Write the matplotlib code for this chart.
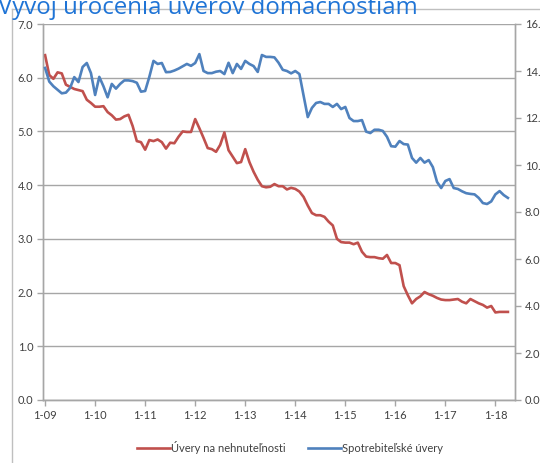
import matplotlib
matplotlib.use("Agg")
import matplotlib.pyplot as plt
from matplotlib.lines import Line2D
import numpy as np

plt.rcParams['font.family'] = ['Lato', 'DejaVu Sans']

title = "Vývoj úročenia úverov domácnostiam"
series_names = ["Úvery na nehnuteľnosti", "Spotrebiteľské úvery"]
year_labels = ["1-09", "1-10", "1-11", "1-12", "1-13", "1-14", "1-15", "1-16", "1-17", "1-18"]

# Monthly rates, Jan 2009 - Apr 2018
mortgage = [
    6.42, 6.05, 5.98, 6.10, 6.08, 5.87, 5.83, 5.79, 5.77, 5.75,
    5.59, 5.53, 5.46, 5.46, 5.47, 5.36, 5.30, 5.22, 5.23, 5.28,
    5.31, 5.10, 4.82, 4.80, 4.66, 4.84, 4.82, 4.85, 4.80, 4.68,
    4.79, 4.78, 4.90, 5.00, 4.99, 4.99, 5.23, 5.06, 4.88, 4.69,
    4.67, 4.62, 4.75, 4.98, 4.65, 4.53, 4.41, 4.43, 4.67, 4.43,
    4.25, 4.10, 3.98, 3.96, 3.97, 4.02, 3.98, 3.98, 3.92, 3.95,
    3.93, 3.88, 3.78, 3.62, 3.48, 3.44, 3.44, 3.41, 3.32, 3.25,
    3.00, 2.94, 2.93, 2.93, 2.90, 2.93, 2.76, 2.67, 2.66, 2.66,
    2.64, 2.63, 2.70, 2.55, 2.55, 2.51, 2.12, 1.95, 1.80, 1.88,
    1.93, 2.01, 1.97, 1.94, 1.90, 1.87, 1.86, 1.86, 1.87, 1.88,
    1.83, 1.80, 1.88, 1.84, 1.80, 1.77, 1.72, 1.75, 1.63, 1.64,
    1.64, 1.64,
]
consumer = [
    14.13, 13.55, 13.35, 13.20, 13.05, 13.08, 13.28, 13.74, 13.53, 14.17,
    14.34, 13.91, 12.98, 13.75, 13.35, 12.88, 13.45, 13.25, 13.45, 13.60,
    13.60, 13.57, 13.50, 13.12, 13.15, 13.75, 14.43, 14.30, 14.34, 13.95,
    13.96, 14.02, 14.10, 14.20, 14.30, 14.22, 14.34, 14.72, 14.00, 13.91,
    13.91, 13.97, 14.00, 13.87, 14.35, 13.91, 14.30, 14.09, 14.43, 14.30,
    14.21, 13.96, 14.68, 14.60, 14.60, 14.58, 14.35, 14.05, 14.00, 13.90,
    14.00, 13.87, 12.95, 12.04, 12.43, 12.64, 12.68, 12.60, 12.60, 12.47,
    12.60, 12.38, 12.47, 12.00, 11.87, 11.87, 11.91, 11.42, 11.36, 11.50,
    11.50, 11.45, 11.20, 10.80, 10.78, 11.02, 10.89, 10.87, 10.30, 10.10,
    10.30, 10.10, 10.21, 9.91, 9.28, 9.02, 9.32, 9.40, 9.02, 8.98,
    8.88, 8.80, 8.77, 8.75, 8.60, 8.38, 8.34, 8.45, 8.75, 8.89,
    8.72, 8.60,
]

red = "#C0504D"
blue = "#4F81BD"
grid_c = "#A6A6A6"
text_c = "#404040"

W, H = 540, 463
fig = plt.figure(figsize=(W / 100, H / 100), dpi=100)

# chart frame
fig.add_artist(Line2D([12 / W, 12 / W], [0, 1 - 9 / H], color="#BFBFBF", lw=1))
fig.add_artist(Line2D([12 / W, 1], [1 - 9 / H, 1 - 9 / H], color="#BFBFBF", lw=1))

# title, partly running off the top edge
fig.text(-2 / W, 1 - 14 / H, title, color="#1F74D6", fontsize=17.3,
         family=['Open Sans', 'DejaVu Sans'], ha="left", va="baseline")

ax = fig.add_axes([43 / W, 1 - 400 / H, (515 - 43) / W, (400 - 24) / H])
ax2 = ax.twinx()

x = np.arange(len(mortgage))
ax.plot(x, mortgage, color=red, lw=1.9, solid_joinstyle="round", zorder=3)
ax2.plot(x, consumer, color=blue, lw=1.9, solid_joinstyle="round", zorder=3)

ax.set_xlim(-0.5, 112.7)
ax.set_ylim(0, 7)
ax2.set_ylim(0, 16)

ax.set_yticks(np.arange(0, 7.01, 1.0))
ax.set_yticklabels([f"{v:.1f}" for v in np.arange(0, 7.01, 1.0)])
ax2.set_yticks(np.arange(0, 16.01, 2.0))
ax2.set_yticklabels([f"{v:.1f}" for v in np.arange(0, 16.01, 2.0)])
ax.set_xticks(np.arange(0, len(year_labels) * 12, 12))
ax.set_xticklabels(year_labels)

ax.grid(axis="y", color=grid_c, lw=1)
ax.set_axisbelow(True)

for a in (ax, ax2):
    a.spines["top"].set_visible(False)
    for s in ("left", "right", "bottom"):
        a.spines[s].set_color("#A6A6A6")
        a.spines[s].set_linewidth(1)
    a.tick_params(colors=grid_c, labelcolor=text_c, labelsize=8,
                  length=4, width=1, pad=3)

handles = [Line2D([], [], color=red, lw=1.9), Line2D([], [], color=blue, lw=1.9)]
fig.legend(handles, series_names, loc="center", bbox_to_anchor=(290 / W, 1 - 447 / H),
           ncol=2, frameon=False, fontsize=8, handlelength=3.0, handletextpad=0.1,
           columnspacing=2.0, labelcolor=text_c)

fig.savefig("out.png", dpi=100)
